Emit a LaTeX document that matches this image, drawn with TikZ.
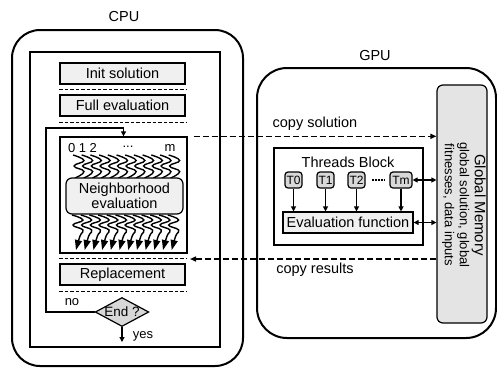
\documentclass[tikz,border=0pt]{standalone}
\usepackage{fontspec}
\setmainfont{Liberation Sans}
\usetikzlibrary{shapes.geometric,arrows.meta,calc}
\definecolor{lightfill}{HTML}{F0F0F0}
\definecolor{tfill}{HTML}{D8D8D8}
\definecolor{gmfill}{HTML}{E4E4E4}
\begin{document}
\begin{tikzpicture}[x=1pt,y=-1pt,
 every node/.style={font=\fontsize{14.5}{16}\selectfont},
 thickbox/.style={draw, line width=2pt, inner sep=0pt},
 plainbox/.style={draw, line width=1.4pt, inner sep=0pt},
 stepbox/.style={draw, line width=1.2pt, fill=lightfill, inner sep=0pt, minimum width=125pt, minimum height=21pt},
 sep/.style={line width=1.4pt, dash pattern=on 3.5pt off 2pt},
 dasharrow/.style={line width=1.4pt, dash pattern=on 6pt off 3pt, -{Triangle[length=6pt,width=5pt]}},
 arr/.style={line width=1.2pt, -{Triangle[length=5pt,width=5pt]}},
 darr/.style={line width=1.2pt, {Triangle[length=5pt,width=5pt]}-{Triangle[length=5pt,width=5pt]}},
 tbox/.style={draw, line width=1.2pt, fill=tfill, rounded corners=3pt, inner sep=0pt, minimum height=16pt, font=\fontsize{12}{12}\selectfont},
 wave/.style={line width=1.4pt},
 small/.style={font=\fontsize{13}{13}\selectfont},
]
\useasboundingbox (0,0) rectangle (497,368);

% ---------- CPU ----------
\node (cpulbl) at (124,17) {CPU};
\node[thickbox, rounded corners=28pt, minimum width=231pt, minimum height=336pt] (cpu) at (127.5,198) {};
\node[plainbox, minimum width=190pt, minimum height=295pt] (inner) at (125,199.5) {};

\node[stepbox] (init) at (122.5,73.5) {Init solution};
\node[stepbox] (full) at (122.5,105.5) {Full evaluation};
\node[stepbox] (repl) at (122.5,274.5) {Replacement};

\draw[sep] ($(init.south west)+(0,5)$) -- ($(init.south east)+(1,5)$);
\draw[sep] ($(full.south west)+(0,6)$) -- ($(full.south east)+(1,6)$);
\draw[sep] ($(repl.north west)+(0,-5)$) -- ($(repl.north east)+(1,-5)$);
\draw[sep] ($(repl.south west)+(0,6)$) -- ($(repl.south east)+(1,6)$);

\node[plainbox, minimum width=127pt, minimum height=116pt] (nb) at (123.5,195) {};
\node[small] (lab012) at (82.5,148) {0 1 2};
\node[small] (labdots) at (128,147) {...};
\node[small] (labm) at (170,148) {m};

\foreach \i in {0,...,11} {
  \pgfmathsetmacro\xx{73+8.7*\i}
  \draw[wave] plot[smooth, tension=0.8] coordinates {(\xx,155) (\xx+11,160.5) (\xx+1,166) (\xx+11,171.5) (\xx+2,178)};
}
\node[draw, line width=1.2pt, fill=lightfill, rounded corners=6pt, minimum width=117pt, minimum height=36pt, inner sep=0pt, align=center, font=\fontsize{14.5}{15}\selectfont] (ne) at (124.5,196) {Neighborhood\\evaluation};
\foreach \i in {0,...,11} {
  \pgfmathsetmacro\xx{72+8.7*\i}
  \draw[wave, -{Triangle[length=10pt,width=7pt]}] plot[smooth, tension=0.8] coordinates {(\xx,215) (\xx+11,220) (\xx+1,225) (\xx+11,230) (\xx+8,236) (\xx+4,250)};
}

\node[diamond, draw, line width=1.2pt, fill=tfill, aspect=1.85, inner sep=0pt, font=\fontsize{13.5}{14}\selectfont] (end) at (122,312) {End ?};
\coordinate (lp1) at (46,128);
\draw[arr] (end.west) -| (lp1) -| (nb.north);
\node[small] (no) at (72,302) {no};
\coordinate (yesend) at (122,342);
\draw[arr] (end.south) -- (yesend);
\node[small] (yes) at (143,336) {yes};

% ---------- GPU ----------
\node (gpulbl) at (375,56) {GPU};
\node[thickbox, rounded corners=30pt, minimum width=239pt, minimum height=270pt] (gpu) at (376.5,203) {};
\node[draw, line width=1.2pt, fill=gmfill, rounded corners=6pt, minimum width=50pt, minimum height=238pt, inner sep=0pt] (gm) at (462,204) {};
\node[rotate=-90, align=center, inner sep=0pt] (gmtext) at (464,205)
  {{\fontsize{15}{14}\selectfont Global Memory}\\[-1pt]{\fontsize{13}{12.5}\selectfont global solution, global}\\[-1pt]{\fontsize{13}{12.5}\selectfont fitnesses, data inputs}};

\node[plainbox, minimum width=149pt, minimum height=97pt] (tb) at (348.5,196.5) {};
\node (tblbl) at (348,162) {Threads Block};
\node[tbox, minimum width=17pt] (t0) at (293.5,180) {T0};
\node[tbox, minimum width=17pt] (t1) at (325.5,180) {T1};
\node[tbox, minimum width=17pt] (t2) at (356.5,180) {T2};
\node[tbox, minimum width=22pt] (tm) at (401,180) {Tm};
\draw[line width=1.6pt, dash pattern=on 2pt off 1pt] ($(t2.east)+(6,0)$) -- ($(tm.west)+(-5,0)$);
\node[draw, line width=1.2pt, fill=lightfill, minimum width=130pt, minimum height=21pt, inner sep=0pt] (ev) at (348,222.5) {Evaluation function};
\foreach \t in {t0,t1,t2,tm} {
  \draw[arr] (\t.south) -- (\t.south |- ev.north);
}
\draw[darr] (tm.east) -- (tm.east -| gm.west);
\draw[darr] (ev.east) -- (ev.east -| gm.west);

% ---------- transfers ----------
\coordinate (cs) at ($(nb.north east)+(6,0)$);
\draw[dasharrow] (cs) -- (cs -| gm.west);
\node (copysol) at (315,124) {copy solution};
\coordinate (cr) at (190,259);
\draw[dasharrow] (cr -| gm.west) -- (cr);
\node (copyres) at (315,270) {copy results};
\end{tikzpicture}
\end{document}
